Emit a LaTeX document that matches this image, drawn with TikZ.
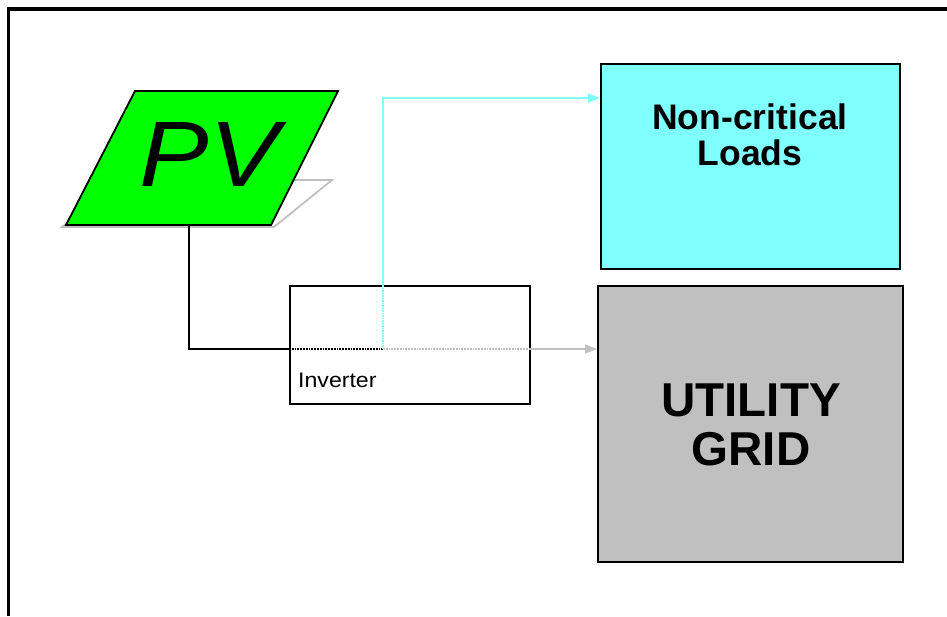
\documentclass[tikz,border=0pt]{standalone}
\usepackage{fontspec}
\setmainfont{Liberation Sans}
\usetikzlibrary{arrows.meta}
\definecolor{pvgreen}{HTML}{00FF00}
\definecolor{loadcyan}{HTML}{80FFFF}
\definecolor{gridgray}{HTML}{C0C0C0}
\tikzset{
  boxnode/.style={draw=black, line width=1.8pt, rectangle, inner sep=0pt, anchor=north west},
  bigtext/.style={font=\bfseries\fontsize{35.5}{36}\selectfont, anchor=base, inner sep=0pt},
  hugetext/.style={font=\bfseries\fontsize{47.5}{49}\selectfont, anchor=base, inner sep=0pt},
  wire/.style={line width=1.8pt},
  tip/.style={-{Triangle[length=12pt,width=9pt]}},
}
\begin{document}
\begin{tikzpicture}[x=1pt,y=-1pt]
\useasboundingbox (0,0) rectangle (947,616);
% frame
\draw[line width=4pt] (947,9) -- (8,9);
\draw[line width=3pt] (8,7) -- (8,616);
% PV shadow
\draw[gridgray, line width=1.8pt] (62,227) -- (120,180) -- (332,180) -- (274,227) -- cycle;
% PV panel
\coordinate (pvbl) at (66,225);
\coordinate (pvtl) at (135,91);
\coordinate (pvtr) at (338,91);
\coordinate (pvbr) at (271,225);
\filldraw[fill=pvgreen, draw=black, line width=1.8pt] (pvbl) -- (pvtl) -- (pvtr) -- (pvbr) -- cycle;
\node[font=\itshape\fontsize{93}{93}\selectfont, anchor=base, inner sep=0pt, xscale=1.12] (pvtext) at (209,186) {PV};
\coordinate (pvb) at (189,225);
% inverter
\node[boxnode, fill=white, minimum width=240pt, minimum height=118pt] (inv) at (289,285) {};
\node[font=\fontsize{21}{21}\selectfont, anchor=base west, inner sep=0pt, xscale=1.1] (invtext) at (298,387) {Inverter};
% loads
\node[boxnode, fill=loadcyan, minimum width=299pt, minimum height=205pt] (loads) at (600,63) {};
\node[bigtext] (loadsa) at (750,129) {Non-critical};
\node[bigtext] (loadsb) at (750,165) {Loads};
% grid
\node[boxnode, fill=gridgray, minimum width=305pt, minimum height=276pt] (grid) at (597,285) {};
\node[hugetext] (grida) at (751,416) {UTILITY};
\node[hugetext] (gridb) at (751,465) {GRID};
% connectors
\coordinate (invin) at (289,349);
\coordinate (split) at (383,349);
\coordinate (invout) at (529,349);
\coordinate (invtop) at (383,285);
\coordinate (cyturn) at (383,98);
\draw[wire] (pvb) |- (invin);
\draw[line width=1.8pt, densely dotted] (invin) -- (split);
\draw[line width=1.8pt, densely dotted, gridgray] (split) -- (invout);
\draw[wire, gridgray, tip] (invout) -- (split -| grid.west);
\draw[line width=1.5pt, densely dotted, loadcyan] (split) -- (invtop);
\draw[wire, loadcyan, tip] (invtop) -- (cyturn) -- (cyturn -| loads.west);
\end{tikzpicture}
\end{document}
